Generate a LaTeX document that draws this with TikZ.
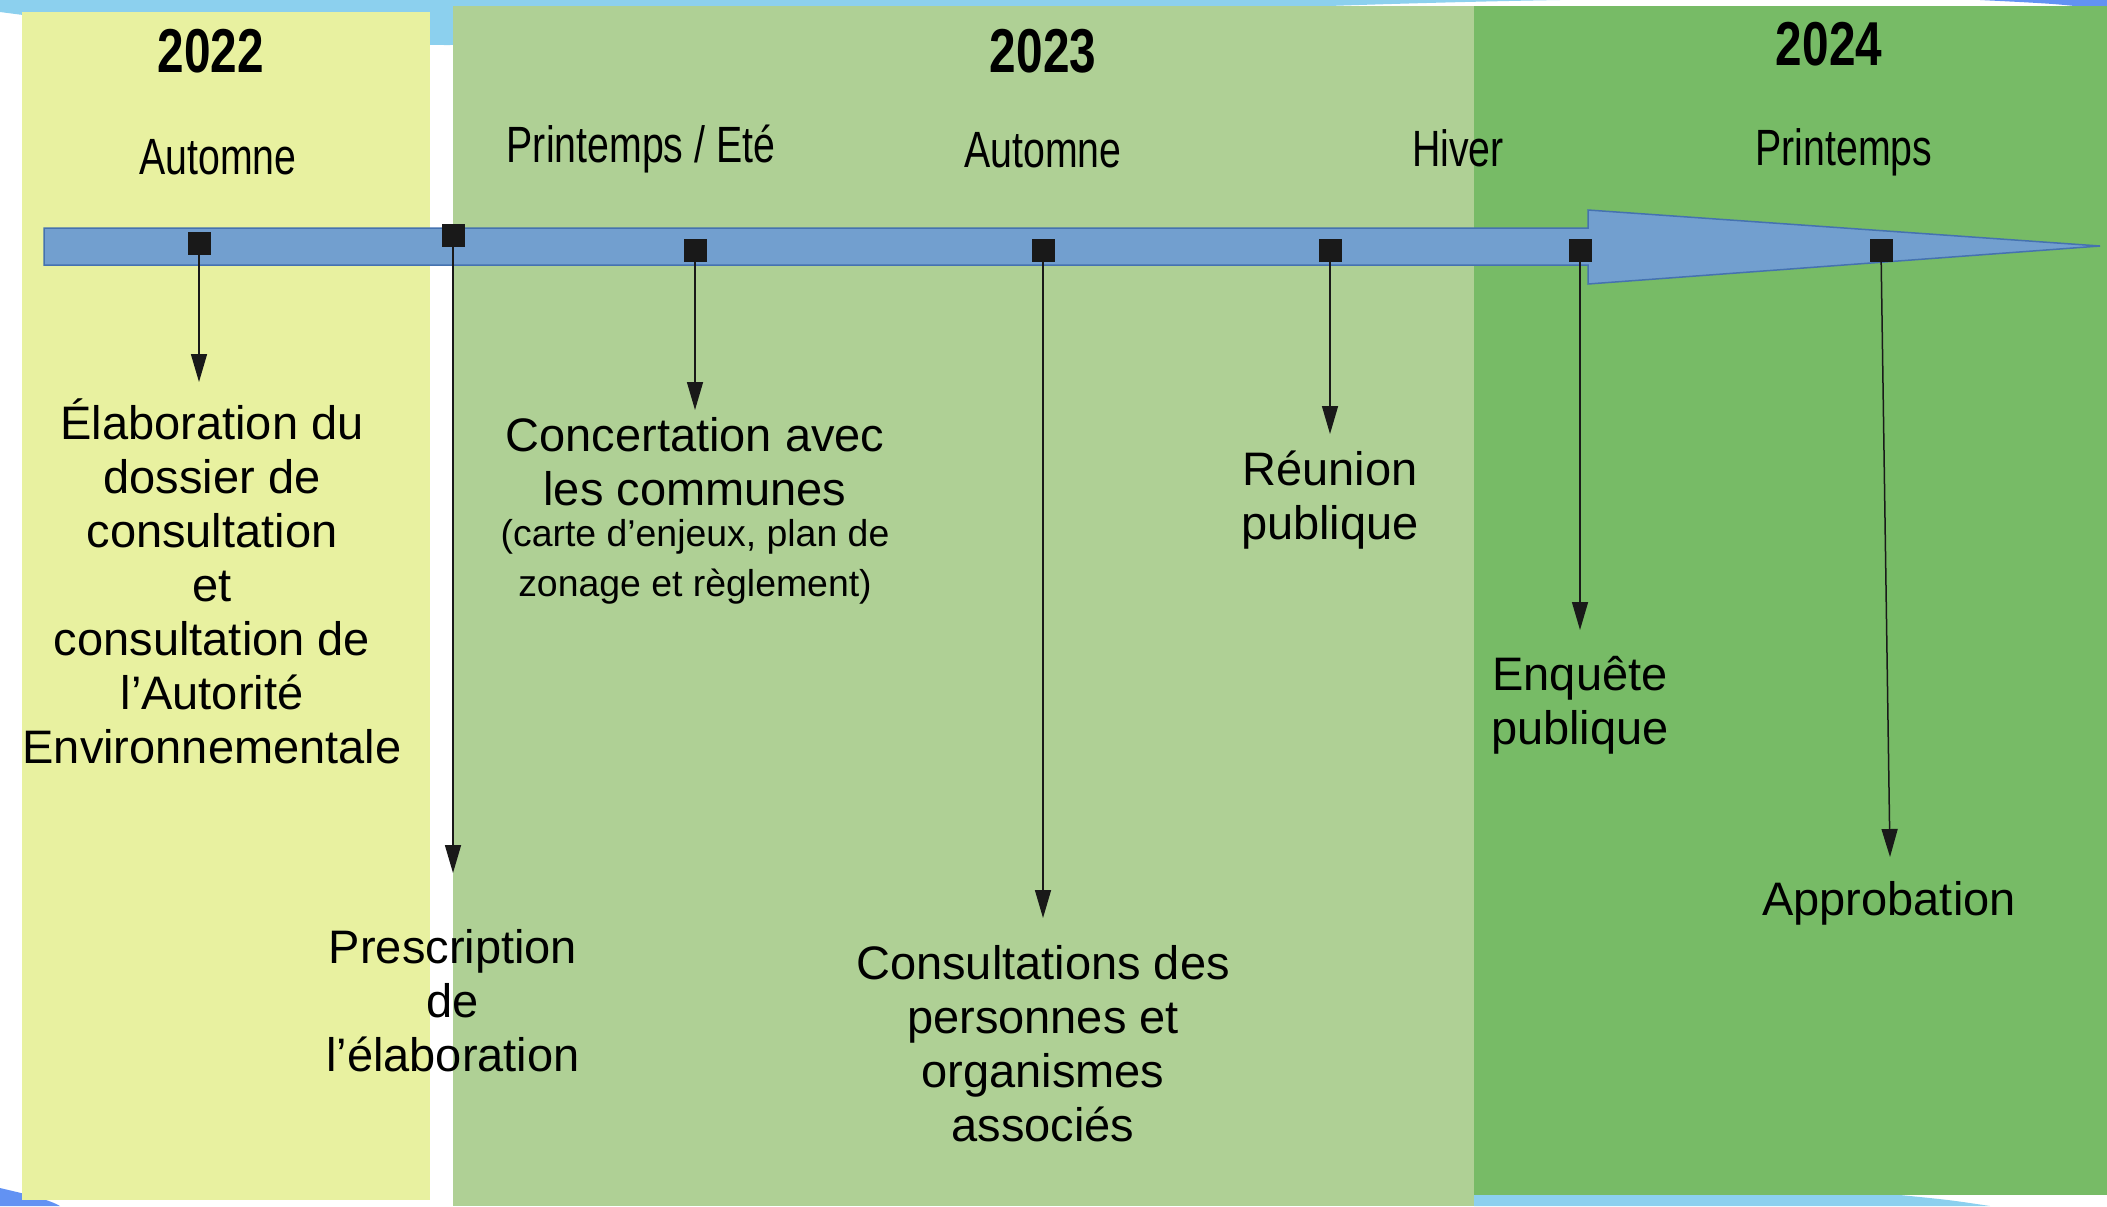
\documentclass[tikz,border=0pt]{standalone}
\usepackage{fontspec}
\setmainfont{Liberation Sans}
\newfontfamily\hdrfont{Liberation Sans}[FakeStretch=0.77]
\usetikzlibrary{arrows.meta,positioning}
\definecolor{paleyellow}{RGB}{232,241,160}
\definecolor{lightgreen}{RGB}{175,208,149}
\definecolor{darkgreen}{RGB}{119,187,102}
\definecolor{shaftblue}{RGB}{114,159,207}
\definecolor{shaftedge}{RGB}{69,114,176}
\definecolor{swoosh}{RGB}{140,208,238}
\tikzset{%
milestone/.style={rectangle, fill=black!90, minimum size=11.5pt, inner sep=0pt},
lnk/.style={draw=black!90, line width=0.75pt, -{Triangle[length=14pt,width=8pt]}},
lbl/.style={align=center, inner sep=0pt, font=\fontsize{23.5}{27}\selectfont},
note/.style={align=center, inner sep=0pt, font=\fontsize{18.7}{25}\selectfont},
season/.style={inner sep=0pt, font=\hdrfont\fontsize{25.5}{30}\selectfont},
yearlbl/.style={inner sep=0pt, font=\hdrfont\bfseries\fontsize{31}{36}\selectfont}
}
\begin{document}
\begin{tikzpicture}[x=0.5pt,y=-0.5pt]
	\useasboundingbox (0,0) rectangle (2107,1206);
	\fill[white] (0,0) rectangle (2107,1206);
	% slide background
	\fill[swoosh] (0,0) -- (1560,0) .. controls (1100,8) and (700,40) .. (450,45) .. controls (250,45) and (100,25) .. (0,12) -- cycle;
	\fill[swoosh!70!blue] (1980,0) -- (2107,0) -- (2107,10) .. controls (2060,4) .. (1980,0) -- cycle;
	\fill[swoosh!70!blue] (0,1188) .. controls (30,1195) and (50,1200) .. (60,1206) -- (0,1206) -- cycle;
	\fill[swoosh] (1474,1195) -- (1900,1195) .. controls (1950,1200) .. (1990,1206) -- (1474,1206) -- cycle;
	% years
	\fill[paleyellow] (22,12) rectangle (430,1200);
	\fill[lightgreen] (453,6) rectangle (1474,1206);
	\fill[darkgreen] (1474,6) rectangle (2107,1195);
	
	\node[yearlbl] (y22) at (211,51) {2022};
	\node[yearlbl] (y23) at (1043,51) {2023};
	\node[yearlbl] (y24) at (1829,44) {2024};
	\node[season] (aut22) at (218,157) {Automne};
	\node[season] (pe23) at (641,149) {Printemps / Eté};
	\node[season] (aut23) at (1043,150) {Automne};
	\node[season] (hiv) at (1458,148) {Hiver};
	\node[season] (pr24) at (1844,152) {Printemps};
	
	% time arrow
	\filldraw[fill=shaftblue, draw=shaftedge, line width=0.75pt]
		(44,228) -- (1588,228) -- (1588,210) -- (2100,246) -- (1588,284) -- (1588,265) -- (44,265) -- cycle;
	
	\node[milestone] (s1) at (199,243) {};
	\node[milestone] (s2) at (453,235) {};
	\node[milestone] (s3) at (695,250) {};
	\node[milestone] (s4) at (1043,250) {};
	\node[milestone] (s5) at (1330,250) {};
	\node[milestone] (s6) at (1580,250) {};
	\node[milestone] (s7) at (1881,250) {};
	
	\coordinate (t1) at (199,382);
	\coordinate (t2) at (453,873);
	\coordinate (t3) at (695,410);
	\coordinate (t4) at (1043,918);
	\coordinate (t5) at (1330,434);
	\coordinate (t6) at (1580,630);
	\coordinate (t7) at (1890,857);
	
	\node[lbl] (elab) at (212,581) {Élaboration du\\dossier de\\consultation\\et\\consultation de\\l’Autorité\\Environnementale};
	\node[lbl] (presc) at (453,1001) {Prescription\\de\\l’élaboration};
	\node[lbl] (conc) at (695,462) {Concertation avec\\les communes};
	\node[note] (concnote) at (695,562) {(carte d’enjeux, plan de\\zonage et règlement)};
	\node[lbl] (consult) at (1043,1044) {Consultations des\\personnes et\\organismes\\associés};
	\node[lbl] (reunion) at (1330,500) {Réunion\\publique};
	\node[lbl] (enquete) at (1580,705) {Enquête\\publique};
	\node[lbl] (approb) at (1889,903) {Approbation};
	
	\draw[lnk] (s1) -- (t1);
	\draw[lnk] (s2) -- (t2);
	\draw[lnk] (s3) -- (t3);
	\draw[lnk] (s4) -- (t4);
	\draw[lnk] (s5) -- (t5);
	\draw[lnk] (s6) -- (t6);
	\draw[lnk] (s7) -- (t7);
\end{tikzpicture}
\end{document}
